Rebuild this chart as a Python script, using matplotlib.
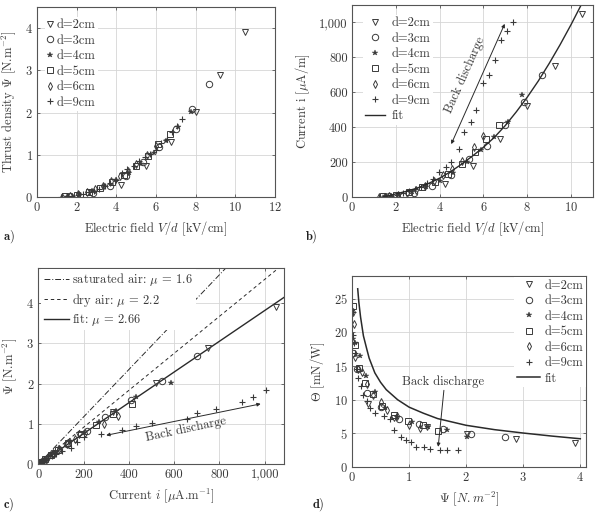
import matplotlib
matplotlib.use('Agg')
import matplotlib.pyplot as plt
from matplotlib.ticker import FuncFormatter, MultipleLocator

plt.rcParams['font.family'] = ['cmr10', 'DejaVu Serif']
plt.rcParams['mathtext.fontset'] = 'cm'
plt.rcParams['axes.formatter.use_mathtext'] = True
plt.rcParams['axes.unicode_minus'] = False
plt.rcParams['font.size'] = 9

# ---------------- data ----------------
labels = ['d=2cm', 'd=3cm', 'd=4cm', 'd=5cm', 'd=6cm', 'd=9cm']

# d = 2 cm
d2_E = [4.25, 5.5, 6.75, 8.0, 9.25, 10.5]
d2_psi = [0.28, 0.73, 1.31, 2.02, 2.88, 3.9]
d2_i = [72, 180, 330, 520, 750, 1048]
d2_theta = [9.4, 7.3, 5.9, 4.85, 4.2, 3.55]
# d = 3 cm
d3_E = [1.67, 2.83, 3.67, 4.5, 5.33, 6.17, 7.0, 7.83, 8.67]
d3_psi = [0.02, 0.09, 0.26, 0.5, 0.82, 1.18, 1.6, 2.08, 2.68]
d3_i = [5, 25, 65, 125, 215, 295, 410, 545, 700]
d3_theta = [17.0, 14.6, 11.0, 8.9, 7.2, 6.4, 5.6, 4.9, 4.4]
# d = 4 cm
d4_E = [1.5, 2.125, 2.75, 3.375, 4.0, 4.625, 5.25, 5.875, 6.5, 7.125, 7.75]
d4_psi = [0.01, 0.06, 0.14, 0.25, 0.40, 0.57, 0.78, 1.05, 1.33, 1.66, 2.02]
d4_i = [3, 12, 30, 55, 90, 140, 200, 268, 345, 430, 585]
d4_theta = [19.0, 18.5, 16.5, 13.5, 11.2, 8.8, 7.4, 6.7, 6.0, 5.5, 4.5]
# d = 5 cm
d5_E = [1.4, 2.0, 2.6, 3.2, 3.8, 4.4, 5.0, 5.6, 6.1, 6.7]
d5_psi = [0.02, 0.05, 0.12, 0.22, 0.36, 0.52, 0.74, 0.98, 1.25, 1.5]
d5_i = [3, 12, 30, 55, 88, 130, 190, 255, 330, 415]
d5_theta = [24.0, 18.2, 14.7, 12.5, 10.9, 9.1, 7.7, 6.9, 6.2, 5.4]
# d = 6 cm
d6_E = [1.25, 1.67, 2.08, 2.5, 2.92, 3.33, 3.75, 4.17, 4.58, 5.0, 5.57, 6.0]
d6_psi = [0.01, 0.03, 0.06, 0.11, 0.18, 0.27, 0.37, 0.5, 0.62, 0.78, 1.0, 1.2]
d6_i = [2, 6, 14, 25, 42, 65, 92, 125, 160, 205, 288, 350]
d6_theta = [23.0, 21.2, 16.3, 14.5, 14.2, 12.3, 10.7, 9.6, 8.5, 7.6, 6.3, 5.8]
# d = 9 cm
d9_E = [1.22, 1.5, 1.77, 2.05, 2.32, 2.6, 2.87, 3.15, 3.42, 3.7, 3.98, 4.28,
        4.53, 4.87, 5.12, 5.43, 5.68, 5.99, 6.27, 6.54, 6.8, 7.08, 7.33]
d9_psi = [0.01, 0.02, 0.03, 0.05, 0.08, 0.11, 0.15, 0.2, 0.26, 0.32, 0.4, 0.56,
          0.67, 0.74, 0.85, 0.94, 1.03, 1.12, 1.27, 1.37, 1.55, 1.67, 1.85]
d9_i = [1, 4, 8, 14, 22, 32, 45, 60, 80, 105, 145, 172,
        203, 277, 370, 430, 500, 655, 700, 785, 900, 950, 1005]
d9_theta = [23.0, 19.6, 18.5, 17.0, 14.6, 13.3, 12.0, 10.7, 9.8, 8.7, 8.0, 7.6,
            7.2, 5.5, 4.4, 4.0, 3.7, 2.9, 2.9, 2.7, 2.55, 2.5, 2.5]

# fit curve of panel b (current vs field)
fitb_E = [1.4, 1.7, 2.0, 2.5, 3.0, 3.5, 4.0, 4.5, 5.0, 5.5, 6.0, 6.5, 7.0,
          7.5, 8.0, 8.5, 9.0, 9.5, 10.0, 10.5]
fitb_i = [0, 8, 18, 33, 52, 78, 108, 145, 188, 235, 285, 342, 410,
          488, 572, 664, 765, 873, 988, 1110]
# lines of panel c (thrust vs current)
sat_i = [0, 1100]
sat_psi = [0, 6.47]
dry_i = [0, 1100]
dry_psi = [0, 5.05]
fitc_i = [0, 1100]
fitc_psi = [0, 4.2]
# fit curve of panel d (effectiveness vs thrust)
fitd_psi = [0.1, 0.12, 0.15, 0.2, 0.26, 0.3, 0.4, 0.5, 0.6, 0.8, 1.0, 1.25,
            1.5, 2.0, 2.5, 3.0, 3.5, 4.0]
fitd_theta = [26.5, 24.5, 22.3, 19.5, 17.5, 16.2, 14.0, 12.6, 11.5, 10.0, 8.9, 8.0,
              7.2, 6.2, 5.55, 5.05, 4.6, 4.2]

E_sets = [d2_E, d3_E, d4_E, d5_E, d6_E, d9_E]
psi_sets = [d2_psi, d3_psi, d4_psi, d5_psi, d6_psi, d9_psi]
i_sets = [d2_i, d3_i, d4_i, d5_i, d6_i, d9_i]
theta_sets = [d2_theta, d3_theta, d4_theta, d5_theta, d6_theta, d9_theta]

# ---------------- styles ----------------
TXT = '#3a3a3a'
MK = '#3a3a3a'
LINE = '#2a2a2a'
mstyles = [
    dict(marker='v', ms=4.3, mfc='none', mec=MK, mew=0.7),
    dict(marker='o', ms=4.6, mfc='none', mec=MK, mew=0.7),
    dict(marker='*', ms=4.4, mfc=MK, mec=MK, mew=0.3),
    dict(marker='s', ms=4.3, mfc='none', mec=MK, mew=0.7),
    dict(marker='d', ms=4.0, mfc='none', mec=MK, mew=0.7),
    dict(marker='+', ms=5.0, mfc='none', mec=MK, mew=0.8),
]

fig = plt.figure(figsize=(5.98, 5.15), dpi=100)
W, H = 598.0, 515.0


def add_ax(l, r, t, b):
    return fig.add_axes([l / W, 1 - b / H, (r - l) / W, (b - t) / H])


def style(ax):
    ax.grid(True, color='#d6d6d6', lw=0.6)
    ax.set_axisbelow(True)
    for s in ax.spines.values():
        s.set_color('#555555')
        s.set_linewidth(0.8)
    ax.tick_params(direction='in', length=2.5, width=0.6, color='#555555',
                   labelcolor=TXT, top=True, right=True, labelsize=9, pad=3)


def scatter_all(ax, xs, ys):
    for x, y, st, lab in zip(xs, ys, mstyles, labels):
        ax.plot(x, y, ls='none', label=lab, **st)


def legend(ax, loc, anchor, hl, htp):
    lg = ax.legend(loc=loc, bbox_to_anchor=anchor, handlelength=hl,
                   handletextpad=htp, labelspacing=0.27, borderpad=0.2,
                   borderaxespad=0.0, frameon=True, fancybox=False,
                   fontsize=9, labelcolor=TXT)
    lg.get_frame().set_facecolor('white')
    lg.get_frame().set_edgecolor('none')
    lg.get_frame().set_alpha(1.0)
    return lg


comma = FuncFormatter(lambda v, p: f'{v:,.0f}')

# ---------------- panel a ----------------
ax = add_ax(37, 275, 7, 197)
style(ax)
scatter_all(ax, E_sets, psi_sets)
ax.set_xlim(0, 12)
ax.set_ylim(0, 4.5)
ax.xaxis.set_major_locator(MultipleLocator(2))
ax.yaxis.set_major_locator(MultipleLocator(1))
ax.set_xlabel('Electric field $V/d$ [kV/cm]', color=TXT, fontsize=9, labelpad=4)
ax.set_ylabel('Thrust density $\\Psi$ [N.m$^{-2}$]', color=TXT, fontsize=9, labelpad=5)
legend(ax, 'upper left', (0.032, 0.95), 0.5, 0.3)

# ---------------- panel b ----------------
ax = add_ax(352, 593, 5, 197)
style(ax)
scatter_all(ax, E_sets, i_sets)
ax.plot(fitb_E, fitb_i, color=LINE, lw=1.0, label='fit')
ax.set_xlim(0, 11)
ax.set_ylim(0, 1100)
ax.xaxis.set_major_locator(MultipleLocator(2))
ax.yaxis.set_major_locator(MultipleLocator(200))
ax.yaxis.set_major_formatter(comma)
ax.set_xlabel('Electric field $V/d$ [kV/cm]', color=TXT, fontsize=9, labelpad=4)
ax.set_ylabel('Current i [$\\mu$A/m]', color=TXT, fontsize=9, labelpad=5)
legend(ax, 'upper left', (0.044, 0.95), 1.6, 0.5)
ax.annotate('', xy=(6.97, 992), xytext=(4.53, 303),
            arrowprops=dict(arrowstyle='<|-|>', color=LINE, lw=0.7,
                            shrinkA=0, shrinkB=0, mutation_scale=5))
ax.text(5.15, 700, 'Back discharge', rotation=66, rotation_mode='anchor',
        ha='center', va='center', color=TXT, fontsize=9)

# ---------------- panel c ----------------
ax = add_ax(38.3, 284, 267.7, 464.3)
style(ax)
ax.plot(sat_i, sat_psi, color=LINE, lw=0.7, ls=(0, (6, 2, 1, 2)),
        label='saturated air: $\\mu$ = 1.6')
ax.plot(dry_i, dry_psi, color=LINE, lw=0.7, ls=(0, (3.5, 3)),
        label='dry air: $\\mu$ = 2.2')
ax.plot(fitc_i, fitc_psi, color=LINE, lw=1.0, label='fit: $\\mu$ = 2.66')
for x, y, st in zip(i_sets, psi_sets, mstyles):
    ax.plot(x, y, ls='none', **st)
ax.set_xlim(0, 1085)
ax.set_ylim(0, 4.88)
ax.xaxis.set_major_locator(MultipleLocator(200))
ax.yaxis.set_major_locator(MultipleLocator(1))
ax.xaxis.set_major_formatter(comma)
ax.set_xlabel('Current $i$ [$\\mu$A.m$^{-1}$]', color=TXT, fontsize=9, labelpad=4)
ax.set_ylabel('$\\Psi$ [N.m$^{-2}$]', color=TXT, fontsize=9, labelpad=5)
legend(ax, 'upper left', (0.012, 0.995), 2.0, 0.3)
ax.annotate('', xy=(982, 1.5), xytext=(300, 0.72),
            arrowprops=dict(arrowstyle='<|-|>', color=LINE, lw=0.7,
                            shrinkA=0, shrinkB=0, mutation_scale=5))
ax.text(650, 0.87, 'Back discharge', rotation=12, rotation_mode='anchor',
        ha='center', va='center', color=TXT, fontsize=9)

# ---------------- panel d ----------------
ax = add_ax(352, 586, 276, 467)
style(ax)
scatter_all(ax, psi_sets, theta_sets)
ax.plot(fitd_psi, fitd_theta, color=LINE, lw=1.1, label='fit')
ax.set_xlim(0, 4.1)
ax.set_ylim(0, 28.4)
ax.xaxis.set_major_locator(MultipleLocator(1))
ax.yaxis.set_major_locator(MultipleLocator(5))
ax.set_xlabel('$\\Psi$ $[N.m^{-2}]$', color=TXT, fontsize=9, labelpad=4)
ax.set_ylabel('$\\Theta$ [mN/W]', color=TXT, fontsize=9, labelpad=5)
legend(ax, 'upper right', (0.998, 0.995), 1.9, 0.3)
ax.annotate('', xy=(1.51, 3.0), xytext=(1.61, 11.4),
            arrowprops=dict(arrowstyle='-|>', color=LINE, lw=0.7,
                            shrinkA=0, shrinkB=0, mutation_scale=5))
ax.text(1.6, 12.7, 'Back discharge', ha='center', va='center', color=TXT, fontsize=9)

# panel letters
for x, y, t in [(3, 237, 'a)'), (305, 237, 'b)'), (3, 505, 'c)'), (312, 505, 'd)')]:
    fig.text(x / W, 1 - y / H, '$\\mathbf{' + t + '}$', ha='left', va='center',
             fontsize=9, color='#222222')

fig.savefig('out.png', dpi=100)
